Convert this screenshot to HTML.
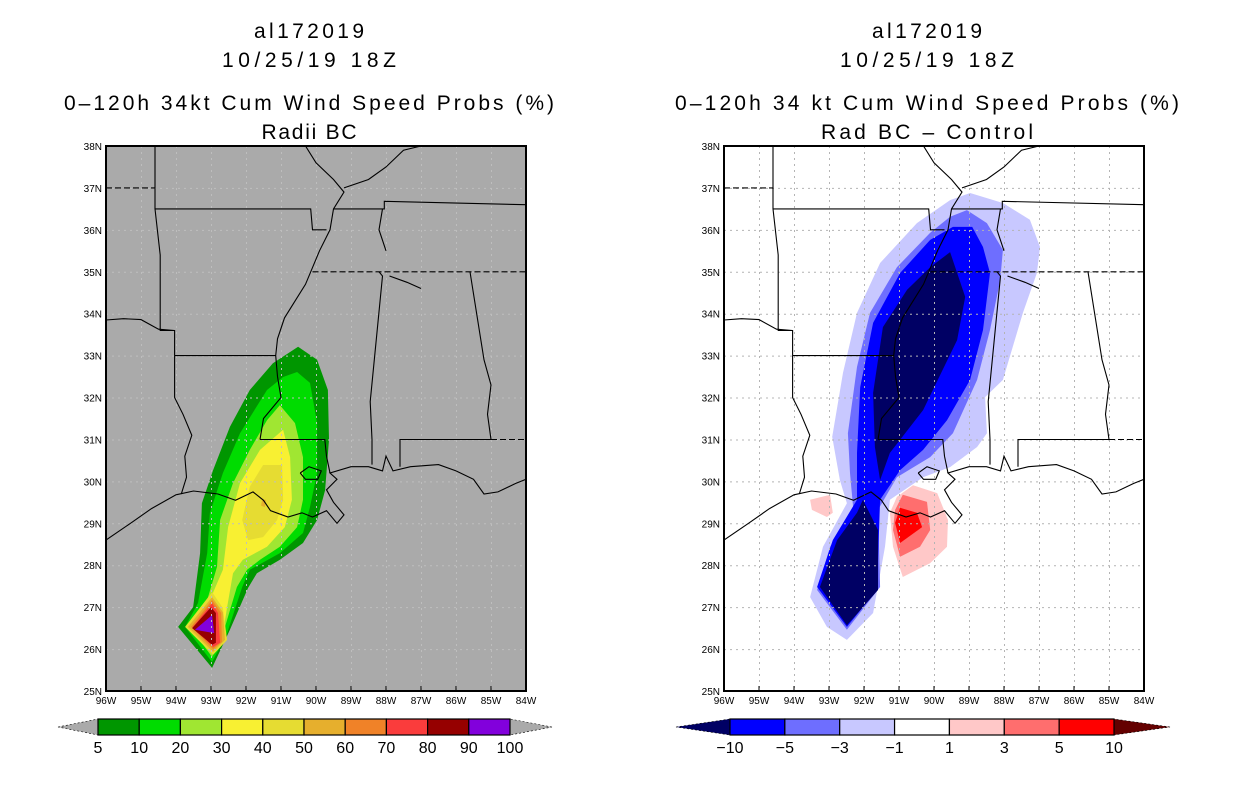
<!DOCTYPE html>
<html><head><meta charset="utf-8">
<style>
html,body{margin:0;padding:0;background:#fff;}
body{width:1236px;height:800px;overflow:hidden;font-family:"Liberation Sans",sans-serif;}
svg{display:block}
</style></head>
<body>
<svg id="fig" width="1236" height="800" xmlns="http://www.w3.org/2000/svg">
<g font-family="Liberation Sans, sans-serif" font-size="21" text-anchor="middle" fill="#000">
<text x="309" y="38" textLength="110" lengthAdjust="spacing">al172019</text>
<text x="309" y="67" textLength="174" lengthAdjust="spacing">10/25/19 18Z</text>
<text x="309" y="110" textLength="490" lengthAdjust="spacing">0–120h 34kt Cum Wind Speed Probs (%)</text>
<text x="309" y="139" textLength="95" lengthAdjust="spacing">Radii BC</text>
</g>
<g font-family="Liberation Sans, sans-serif" font-size="21" text-anchor="middle" fill="#000">
<text x="927" y="38" textLength="110" lengthAdjust="spacing">al172019</text>
<text x="927" y="67" textLength="174" lengthAdjust="spacing">10/25/19 18Z</text>
<text x="927" y="110" textLength="504" lengthAdjust="spacing">0–120h 34 kt Cum Wind Speed Probs (%)</text>
<text x="927" y="139" textLength="212" lengthAdjust="spacing">Rad BC – Control</text>
</g>
</svg>
<script>
// ---- geographic extent ----
const lonTicks = [96,95,94,93,92,91,90,89,88,87,86,85,84];
const latTicks = [25,26,27,28,29,30,31,32,33,34,35,36,37,38];

// ---- left panel contour polygons (lon W, lat N) ----
const leftLevelLabels = ["5","10","20","30","40","50","60","70","80","90","100"];
const leftColors = ["#009600","#00dc00","#a0e632","#f8f032","#e6dc32","#e6af2d","#f08228","#fa3c3c","#960000","#8200dc"];
const L5 = [[90.51,33.21],[89.97,32.90],[89.66,32.18],[89.63,30.99],[89.74,29.79],[89.97,29.08],[90.37,28.53],[91.03,28.13],[91.69,27.81],[91.94,27.46],[92.46,26.46],[92.97,25.55],[93.94,26.53],[93.51,27.0],[93.31,28.29],[93.26,29.48],[92.94,30.27],[92.46,31.30],[91.89,32.18],[91.23,32.82]];
const L10 = [[90.54,32.61],[90.17,32.35],[89.97,31.39],[89.97,30.20],[90.17,29.39],[90.37,28.77],[91.03,28.29],[91.89,27.89],[92.11,27.48],[92.54,26.38],[92.97,25.69],[93.74,26.53],[93.37,27.10],[93.11,28.29],[93.03,29.25],[92.66,30.20],[92.17,31.15],[91.40,32.18],[90.94,32.49]];
const L20 = [[91.03,31.82],[90.60,31.39],[90.37,30.58],[90.37,29.56],[90.54,28.91],[91.03,28.44],[91.60,28.13],[91.97,27.89],[92.26,27.48],[92.60,26.53],[92.97,25.81],[93.60,26.53],[93.11,27.17],[92.83,27.96],[92.74,29.08],[92.37,29.96],[91.89,30.75],[91.40,31.46]];
const L30 = [[90.94,31.23],[90.74,30.58],[90.69,29.56],[90.89,28.91],[91.40,28.44],[92.09,28.13],[92.37,27.81],[92.54,27.0],[92.66,26.38],[92.97,25.98],[93.40,26.53],[93.03,27.17],[92.66,27.89],[92.51,28.91],[92.17,29.96],[91.60,30.75]];
const L40a = [[91.51,30.39],[90.97,30.39],[90.94,29.56],[91.11,29.08],[91.51,28.67],[91.94,28.60],[92.11,29.08],[91.89,29.87]];
const L50a = [[91.54,29.56],[91.43,29.56],[91.46,29.39],[91.57,29.42]];
const L40b = [[92.97,27.36],[92.66,26.98],[92.54,26.22],[92.94,25.86],[93.74,26.53]];
const L50b = [[92.97,27.24],[92.66,26.88],[92.60,26.22],[92.94,25.93],[93.66,26.53]];
const L60 = [[92.97,27.17],[92.71,26.86],[92.69,26.17],[92.94,26.0],[93.57,26.53]];
const L70 = [[92.97,27.10],[92.80,26.86],[92.74,26.15],[92.94,26.05],[93.51,26.53]];
const L80 = [[93.0,27.0],[92.86,26.86],[92.86,26.15],[92.97,26.10],[93.54,26.50]];
const L90 = [[92.97,26.81],[92.91,26.38],[93.46,26.46]];
const leftPolys = [[L5,0],[L10,1],[L20,2],[L30,3],[L40a,4],[L50a,5],[L40b,4],[L50b,5],[L60,6],[L70,7],[L80,8],[L90,9]];

// ---- right panel difference polygons ----
const rightLevelLabels = ["-10","-5","-3","-1","1","3","5","10"];
const rightColors = ["#000064","#0000ff","#6e6eff","#c8c8ff","#ffffff","#ffc8c8","#ff6e6e","#ff0000","#640000"];
const Rm1 = [[88.97,36.88],[88.03,36.64],[87.26,36.24],[86.97,35.59],[87.06,34.97],[87.46,34.02],[88.03,32.42],[88.54,32.01],[88.49,31.15],[88.77,30.82],[89.54,30.34],[90.31,30.10],[91.26,29.56],[91.40,28.44],[91.74,26.86],[92.49,26.22],[93.06,26.53],[93.54,27.24],[93.17,28.44],[92.49,29.48],[92.69,30.03],[92.91,31.06],[92.60,32.59],[92.20,34.02],[91.54,35.21],[90.49,36.16],[89.54,36.71]];
const Rm3 = [[89.06,36.47],[88.49,36.16],[88.03,35.52],[88.11,34.80],[88.40,33.61],[88.77,32.42],[89.46,31.15],[90.11,30.58],[91.06,30.10],[91.60,29.32],[91.54,27.48],[92.49,26.46],[93.34,27.41],[92.97,28.44],[92.31,29.39],[92.40,30.20],[92.46,31.15],[92.20,32.73],[91.83,34.02],[91.06,35.11],[90.11,35.93],[89.54,36.31]];
const Rm5 = [[89.46,36.07],[88.91,36.07],[88.60,35.59],[88.40,34.97],[88.60,33.61],[88.97,32.42],[89.63,31.46],[90.31,30.75],[90.97,30.27],[91.54,29.56],[91.63,27.41],[92.49,26.53],[93.34,27.48],[92.89,28.60],[92.20,29.56],[92.20,30.68],[92.11,32.25],[91.74,33.78],[90.97,34.97],[90.11,35.76]];
const Rm10a = [[89.54,35.47],[89.11,34.40],[89.34,33.37],[90.31,31.70],[91.26,30.68],[91.54,30.03],[91.69,30.82],[91.74,32.11],[91.46,33.68],[90.77,34.57],[90.11,35.11]];
const Rm10b = [[92.03,29.56],[91.60,28.84],[91.60,27.41],[92.49,26.57],[93.26,27.48],[92.77,28.60],[92.20,29.25]];
const Rp1a = [[90.60,29.91],[89.91,29.72],[89.60,29.08],[89.63,28.44],[90.11,28.05],[90.89,27.72],[91.17,28.44],[91.26,29.25],[91.06,29.63]];
const Rp1b = [[93.54,29.56],[92.97,29.68],[92.89,29.25],[93.06,29.15],[93.49,29.32]];
const Rp3 = [[90.89,29.68],[90.20,29.51],[90.11,28.84],[90.40,28.44],[90.97,28.20],[91.17,28.84],[91.11,29.32]];
const Rp5 = [[90.97,29.37],[90.49,29.25],[90.34,28.91],[90.97,28.53],[91.11,29.01]];
const rightPolys = [[Rm1,3],[Rm3,2],[Rm5,1],[Rm10a,0],[Rm10b,0],[Rp1a,5],[Rp1b,5],[Rp3,6],[Rp5,7]];

// ---- map lines ----
const coast = [[96,28.6],[95.3,29.0],[94.7,29.35],[94,29.68],[93.5,29.77],[92.8,29.7],[92.3,29.55],[91.8,29.75],[91.5,29.55],[91.3,29.3],[90.8,29.15],[90.4,29.25],[90.1,29.15],[89.7,29.3],[89.4,29.0],[89.2,29.2],[89.5,29.5],[89.7,29.8],[89.4,30.05],[89.6,30.2],[89.0,30.35],[88.5,30.35],[88.1,30.25],[88.0,30.6],[87.8,30.25],[87.3,30.35],[86.5,30.4],[86.0,30.25],[85.5,30.05],[85.2,29.7],[84.8,29.75],[84.3,29.95],[84,30.05]];
const pontchartrain = [[90.45,30.2],[90.2,30.35],[89.85,30.25],[89.95,30.05],[90.3,30.05],[90.45,30.2]];
const sabine = [[93.85,29.7],[93.7,30.1],[93.75,30.6],[93.55,31.1],[93.8,31.6],[94.04,32.0],[94.04,33.0]];
const arSouth = [[94.04,33.0],[91.15,33.0]];
const arWest = [[94.04,33.0],[94.04,33.6],[94.45,33.6],[94.45,35.4],[94.6,36.5],[94.6,38]];
const redRiver = [[96,33.85],[95.5,33.88],[95,33.86],[94.5,33.63],[94.04,33.6]];
const moSouth = [[94.6,36.5],[90.15,36.5],[90.1,36.0],[89.7,36.0]];
const mississippi = [[90.3,38],[90.0,37.6],[89.5,37.2],[89.2,36.9],[89.5,36.5],[89.6,36.0],[89.9,35.5],[90.1,35.1],[90.3,34.7],[90.6,34.3],[90.9,33.9],[91.1,33.4],[91.15,33.0],[91.1,32.5],[91.0,32.0],[91.5,31.5],[91.6,31.0]];
const laMs = [[91.6,31.0],[89.75,31.0],[89.7,30.6],[89.6,30.2]];
const msAl = [[88.2,35],[88.1,34.9],[88.45,31.9],[88.4,31],[88.4,30.4]];
const alGa = [[85.6,35],[85.2,32.9],[85.0,32.3],[85.1,31.6],[85.0,31.0]];
const alFl = [[87.6,30.35],[87.6,31.0],[85.0,31.0]];
const kyTn = [[89.5,36.5],[88.05,36.5],[88.05,36.68],[84,36.6]];
const ohio = [[89.2,37.0],[88.5,37.2],[88.0,37.5],[87.5,37.9],[87.0,38]];
const lakes = [[88.1,36.5],[88.2,36.0],[88.0,35.5]];
const tnRiver = [[87.9,34.9],[87.4,34.75],[87.0,34.6]];
const solidLines = [coast,pontchartrain,sabine,arSouth,arWest,redRiver,moSouth,mississippi,laMs,msAl,alGa,alFl,kyTn,ohio,lakes,tnRiver];
const tn35 = [[90.1,35.0],[84,35.0]];
const ks37 = [[96,37],[94.6,37]];
const gaFl = [[85.0,31.0],[84,31.0]];
const dashedLines = [tn35,ks37,gaFl];

const NS = "http://www.w3.org/2000/svg";
const svg = document.getElementById('fig');
function mk(tag, attrs, parent){
  const e = document.createElementNS(NS, tag);
  for (const k in attrs) e.setAttribute(k, attrs[k]);
  (parent||svg).appendChild(e);
  return e;
}

function drawPanel(x0, prefix, bg, polys, colors){
  const W = 420, H = 545, y0 = 146;
  const xs = lon => x0 + (96 - lon) / 12 * W;
  const ys = lat => y0 + H - (lat - 25) / 13 * H;
  const g = mk('g', {});
  
  
  const clipId = prefix + '-clip';
  const cp = mk('clipPath', {id: clipId}, g);
  mk('rect', {x: x0, y: y0, width: W, height: H}, cp);
  const bgr = mk('rect', {x: x0, y: y0, width: W, height: H, fill: bg}, g);
  
  
  const inner = mk('g', {'clip-path': 'url(#' + clipId + ')'}, g);
  polys.forEach((p, i) => {
    const pts = p[0].map(d => xs(d[0]).toFixed(1) + ',' + ys(d[1]).toFixed(1)).join(' ');
    const el = mk('polygon', {points: pts, fill: colors[p[1]]}, inner);
    
    
  });
  const grid = mk('g', {stroke: bg === '#ffffff' ? '#b4b4b4' : '#bebebe', 'stroke-width': 1, 'stroke-dasharray': '2,4'}, inner);
  
  
  lonTicks.slice(1, -1).forEach(l => mk('line', {x1: xs(l)+0.5, x2: xs(l)+0.5, y1: y0, y2: y0+H}, grid));
  latTicks.slice(1, -1).forEach(l => mk('line', {x1: x0, x2: x0+W, y1: ys(l)+0.5, y2: ys(l)+0.5}, grid));
  const map = mk('g', {fill: 'none', stroke: '#000', 'stroke-width': 1.1}, inner);
  
  
  solidLines.forEach(line => mk('polyline', {points: line.map(d => xs(d[0]).toFixed(1)+','+ys(d[1]).toFixed(1)).join(' ')}, map));
  dashedLines.forEach(line => mk('polyline', {points: line.map(d => xs(d[0]).toFixed(1)+','+ys(d[1]).toFixed(1)).join(' '), 'stroke-dasharray': '6,3'}, map));
  const fr = mk('rect', {x: x0, y: y0, width: W, height: H, fill: 'none', stroke: '#000', 'stroke-width': 2}, g);
  
  
  const ax = mk('g', {'font-family': 'Liberation Sans, sans-serif', 'font-size': 10, fill: '#000'}, g);
  
  
  lonTicks.forEach(l => {
    const t = mk('text', {x: xs(l), y: y0 + H + 13, 'text-anchor': 'middle'}, ax);
    t.textContent = l + 'W';
    
    
    mk('line', {x1: xs(l), x2: xs(l), y1: y0+H, y2: y0+H-5, stroke: '#000'}, ax);
  });
  latTicks.forEach(l => {
    const t = mk('text', {x: x0 - 4, y: ys(l) + 4, 'text-anchor': 'end'}, ax);
    t.textContent = l + 'N';
    
    
  });
}

drawPanel(106, 'left', '#aaaaaa', leftPolys, leftColors);
drawPanel(724, 'right', '#ffffff', rightPolys, rightColors);

function drawBar(prefix, x0, x1, triL, triR, labels, boxColors, lc, rc){
  const y0 = 719, y1 = 735, ym = 727;
  const g = mk('g', {});
  
  
  const n = boxColors.length, w = (x1 - x0) / n;
  const tl = mk('polygon', {points: `${triL},${ym} ${x0},${y0} ${x0},${y1}`, fill: lc, stroke: '#000', 'stroke-width': 0.6, 'stroke-dasharray': '2,2'}, g);
  
  
  const tr = mk('polygon', {points: `${triR},${ym} ${x1},${y0} ${x1},${y1}`, fill: rc, stroke: '#000', 'stroke-width': 0.6, 'stroke-dasharray': '2,2'}, g);
  
  
  boxColors.forEach((c, i) => {
    const r = mk('rect', {x: x0 + i*w, y: y0, width: w, height: y1 - y0, fill: c, stroke: '#000', 'stroke-width': 1.2}, g);
    
    
  });
  labels.forEach((lab, i) => {
    const t = mk('text', {x: x0 + i*w, y: 753, 'text-anchor': 'middle', 'font-family': 'Liberation Sans, sans-serif', 'font-size': 16, fill: '#000'}, g);
    t.textContent = lab.replace('-', '−');
    
    
  });
}
drawBar('left', 98, 510, 58, 552, leftLevelLabels, leftColors, '#aaaaaa', '#aaaaaa');
drawBar('right', 730, 1114, 676, 1170, rightLevelLabels, rightColors.slice(1, 8), '#000064', '#640000');
</script>
</body></html>
